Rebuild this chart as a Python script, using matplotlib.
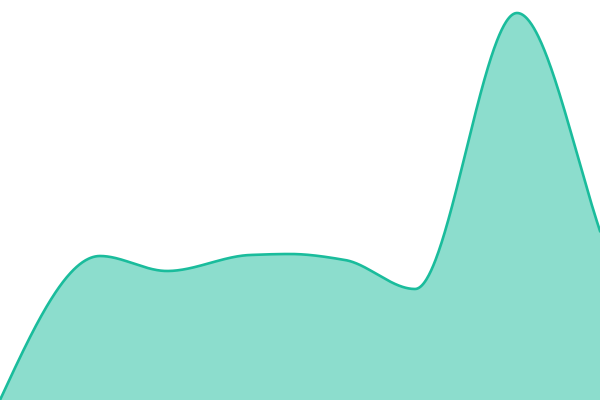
import matplotlib
matplotlib.use("Agg")
import matplotlib.pyplot as plt
import numpy as np

# values (x position, height above the bottom)
x_points = [0, 100, 167, 250, 290, 345, 415, 517, 600]
y_values = [0, 144, 129, 145, 146, 140, 111, 387, 169]

line_color = "#1abc9c"


# monotone cubic (pchip) so the curve looks smooth like the original
def pchip(x, y, xs):
    x = np.asarray(x, float)
    y = np.asarray(y, float)
    h = np.diff(x)
    d = np.diff(y) / h
    m = np.zeros_like(y)
    for k in range(1, len(x) - 1):
        if d[k - 1] * d[k] > 0:
            w1 = 2 * h[k] + h[k - 1]
            w2 = h[k] + 2 * h[k - 1]
            m[k] = (w1 + w2) / (w1 / d[k - 1] + w2 / d[k])
    # ends: start like d3 monotone, end a bit steeper than the secant
    m[0] = (3 * d[0] - m[1]) / 2
    m[-1] = 1.15 * d[-1]
    ys = np.empty_like(xs)
    for i, xv in enumerate(xs):
        k = min(np.searchsorted(x, xv, side="right") - 1, len(x) - 2)
        t = (xv - x[k]) / h[k]
        h00 = 2 * t**3 - 3 * t**2 + 1
        h10 = t**3 - 2 * t**2 + t
        h01 = -2 * t**3 + 3 * t**2
        h11 = t**3 - t**2
        ys[i] = h00 * y[k] + h10 * h[k] * m[k] + h01 * y[k + 1] + h11 * h[k] * m[k + 1]
    return ys


xs = np.linspace(x_points[0], x_points[-1], 800)
ys = pchip(x_points, y_values, xs)

fig = plt.figure(figsize=(6, 4), dpi=100)
ax = fig.add_axes([0, 0, 1, 1])
ax.fill_between(xs, ys, 0, color=line_color, alpha=0.5, linewidth=0)
ax.plot(xs, ys, color=line_color, linewidth=1.9)
ax.set_xlim(0, 600)
ax.set_ylim(0, 400)
ax.axis("off")
fig.savefig("out.png", dpi=100)
